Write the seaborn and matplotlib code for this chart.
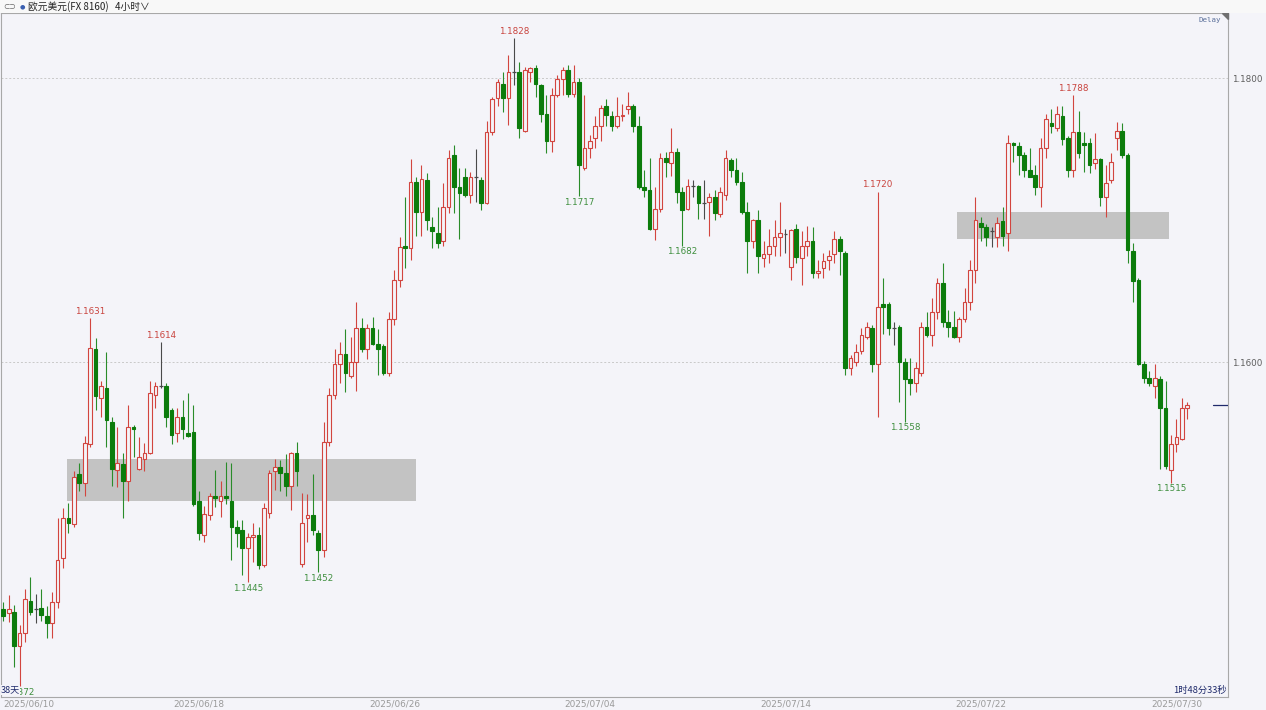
import matplotlib
matplotlib.use("Agg")
import matplotlib.pyplot as plt
from matplotlib.patches import Polygon
import numpy as np
import seaborn as sns

# EUR/USD 4h candles, 2025/06/10 - 2025/07/30
opens = [
    1.1426, 1.1423, 1.1424, 1.1400, 1.1409, 1.1432, 1.1426, 1.1427, 1.1421, 1.1416,
    1.1431, 1.1462, 1.1490, 1.1486, 1.1521, 1.1515, 1.1542, 1.1609, 1.1575, 1.1582,
    1.1558, 1.1524, 1.1528, 1.1516, 1.1554, 1.1525, 1.1532, 1.1536, 1.1577, 1.1583,
    1.1583, 1.1566, 1.1550, 1.1561, 1.1550, 1.1551, 1.1502, 1.1478, 1.1492, 1.1506,
    1.1502, 1.1506, 1.1502, 1.1484, 1.1482, 1.1469, 1.1477, 1.1478, 1.1457, 1.1494,
    1.1523, 1.1526, 1.1522, 1.1513, 1.1536, 1.1458, 1.1490, 1.1492, 1.1480, 1.1468,
    1.1544, 1.1577, 1.1599, 1.1606, 1.1590, 1.1600, 1.1624, 1.1609, 1.1624, 1.1613,
    1.1611, 1.1592, 1.1630, 1.1658, 1.1682, 1.1680, 1.1727, 1.1706, 1.1728, 1.1695,
    1.1691, 1.1685, 1.1709, 1.1746, 1.1723, 1.1730, 1.1718, 1.1730, 1.1728, 1.1712,
    1.1762, 1.1786, 1.1796, 1.1786, 1.1804, 1.1804, 1.1763, 1.1804, 1.1807, 1.1795,
    1.1775, 1.1756, 1.1788, 1.1799, 1.1806, 1.1789, 1.1797, 1.1737, 1.1751, 1.1758,
    1.1766, 1.1780, 1.1773, 1.1766, 1.1773, 1.1778, 1.1780, 1.1766, 1.1723, 1.1721,
    1.1694, 1.1708, 1.1744, 1.1740, 1.1748, 1.1720, 1.1708, 1.1724, 1.1724, 1.1712,
    1.1713, 1.1716, 1.1704, 1.1718, 1.1742, 1.1735, 1.1727, 1.1706, 1.1685, 1.1700,
    1.1673, 1.1676, 1.1682, 1.1688, 1.1690, 1.1667, 1.1694, 1.1673, 1.1682, 1.1685,
    1.1663, 1.1666, 1.1672, 1.1676, 1.1687, 1.1677, 1.1596, 1.1600, 1.1608, 1.1618,
    1.1624, 1.1599, 1.1641, 1.1641, 1.1624, 1.1625, 1.1600, 1.1588, 1.1585, 1.1592,
    1.1625, 1.1619, 1.1635, 1.1656, 1.1628, 1.1625, 1.1618, 1.1630, 1.1642, 1.1665,
    1.1698, 1.1695, 1.1692, 1.1688, 1.1699, 1.1691, 1.1754, 1.1752, 1.1746, 1.1735,
    1.1732, 1.1723, 1.1751, 1.1768, 1.1765, 1.1773, 1.1758, 1.1735, 1.1762, 1.1754,
    1.1754, 1.1740, 1.1743, 1.1716, 1.1728, 1.1758, 1.1763, 1.1746, 1.1678, 1.1658,
    1.1599, 1.1589, 1.1583, 1.1588, 1.1568, 1.1524, 1.1542, 1.1546, 1.1568,
]
highs = [
    1.1431, 1.1436, 1.1429, 1.1415, 1.1440, 1.1449, 1.1437, 1.1440, 1.1428, 1.1438,
    1.1490, 1.1497, 1.1501, 1.1523, 1.1529, 1.1548, 1.1631, 1.1617, 1.1587, 1.1607,
    1.1561, 1.1554, 1.1536, 1.1570, 1.1556, 1.1547, 1.1543, 1.1587, 1.1586, 1.1614,
    1.1585, 1.1568, 1.1568, 1.1573, 1.1578, 1.1570, 1.1509, 1.1499, 1.1508, 1.1524,
    1.1516, 1.1530, 1.1529, 1.1489, 1.1489, 1.1480, 1.1487, 1.1484, 1.1501, 1.1524,
    1.1532, 1.1531, 1.1535, 1.1537, 1.1544, 1.1508, 1.1507, 1.1521, 1.1482, 1.1558,
    1.1582, 1.1609, 1.1614, 1.1623, 1.1618, 1.1642, 1.1631, 1.1627, 1.1632, 1.1623,
    1.1613, 1.1635, 1.1665, 1.1688, 1.1716, 1.1743, 1.1730, 1.1739, 1.1733, 1.1702,
    1.1709, 1.1726, 1.1749, 1.1753, 1.1737, 1.1737, 1.1734, 1.1750, 1.1730, 1.1770,
    1.1787, 1.1799, 1.1804, 1.1816, 1.1828, 1.1811, 1.1808, 1.1808, 1.1809, 1.1796,
    1.1788, 1.1793, 1.1802, 1.1808, 1.1809, 1.1809, 1.1800, 1.1788, 1.1760, 1.1773,
    1.1781, 1.1785, 1.1777, 1.1787, 1.1782, 1.1790, 1.1782, 1.1773, 1.1735, 1.1744,
    1.1723, 1.1747, 1.1748, 1.1765, 1.1751, 1.1723, 1.1729, 1.1728, 1.1725, 1.1728,
    1.1719, 1.1721, 1.1723, 1.1749, 1.1744, 1.1744, 1.1734, 1.1713, 1.1701, 1.1707,
    1.1685, 1.1694, 1.1700, 1.1713, 1.1694, 1.1694, 1.1697, 1.1692, 1.1696, 1.1695,
    1.1672, 1.1677, 1.1679, 1.1692, 1.1689, 1.1678, 1.1605, 1.1613, 1.1624, 1.1628,
    1.1626, 1.1720, 1.1659, 1.1642, 1.1628, 1.1626, 1.1603, 1.1603, 1.1600, 1.1628,
    1.1635, 1.1645, 1.1659, 1.1670, 1.1637, 1.1636, 1.1632, 1.1652, 1.1672, 1.1716,
    1.1702, 1.1697, 1.1695, 1.1702, 1.1709, 1.1760, 1.1755, 1.1755, 1.1748, 1.1751,
    1.1739, 1.1758, 1.1775, 1.1778, 1.1780, 1.1780, 1.1759, 1.1788, 1.1777, 1.1762,
    1.1758, 1.1761, 1.1744, 1.1739, 1.1747, 1.1769, 1.1768, 1.1747, 1.1684, 1.1659,
    1.1601, 1.1594, 1.1599, 1.1590, 1.1587, 1.1549, 1.1560, 1.1575, 1.1572,
]
lows = [
    1.1418, 1.1417, 1.1385, 1.1372, 1.1403, 1.1422, 1.1416, 1.1418, 1.1406, 1.1406,
    1.1427, 1.1455, 1.1480, 1.1484, 1.1509, 1.1506, 1.1540, 1.1566, 1.1561, 1.1540,
    1.1513, 1.1512, 1.1490, 1.1502, 1.1533, 1.1524, 1.1523, 1.1535, 1.1568, 1.1582,
    1.1554, 1.1542, 1.1544, 1.1546, 1.1547, 1.1499, 1.1475, 1.1473, 1.1489, 1.1498,
    1.1491, 1.1500, 1.1461, 1.1470, 1.1450, 1.1445, 1.1459, 1.1454, 1.1456, 1.1490,
    1.1510, 1.1509, 1.1506, 1.1496, 1.1513, 1.1456, 1.1473, 1.1478, 1.1452, 1.1463,
    1.1541, 1.1574, 1.1585, 1.1579, 1.1589, 1.1580, 1.1607, 1.1602, 1.1612, 1.1591,
    1.1591, 1.1590, 1.1626, 1.1653, 1.1666, 1.1672, 1.1689, 1.1689, 1.1693, 1.1680,
    1.1680, 1.1682, 1.1705, 1.1705, 1.1687, 1.1716, 1.1712, 1.1713, 1.1707, 1.1711,
    1.1760, 1.1780, 1.1776, 1.1767, 1.1795, 1.1758, 1.1762, 1.1797, 1.1787, 1.1769,
    1.1747, 1.1748, 1.1787, 1.1788, 1.1787, 1.1787, 1.1717, 1.1735, 1.1744, 1.1751,
    1.1756, 1.1766, 1.1763, 1.1765, 1.1770, 1.1775, 1.1762, 1.1722, 1.1716, 1.1693,
    1.1686, 1.1706, 1.1730, 1.1731, 1.1712, 1.1682, 1.1707, 1.1716, 1.1701, 1.1701,
    1.1689, 1.1700, 1.1702, 1.1714, 1.1730, 1.1725, 1.1704, 1.1663, 1.1680, 1.1663,
    1.1667, 1.1670, 1.1675, 1.1675, 1.1677, 1.1658, 1.1670, 1.1654, 1.1675, 1.1659,
    1.1659, 1.1659, 1.1665, 1.1670, 1.1661, 1.1591, 1.1591, 1.1597, 1.1606, 1.1616,
    1.1593, 1.1561, 1.1620, 1.1619, 1.1612, 1.1572, 1.1558, 1.1577, 1.1579, 1.1590,
    1.1618, 1.1611, 1.1630, 1.1625, 1.1618, 1.1617, 1.1614, 1.1628, 1.1637, 1.1656,
    1.1685, 1.1682, 1.1681, 1.1681, 1.1682, 1.1678, 1.1741, 1.1732, 1.1730, 1.1730,
    1.1718, 1.1709, 1.1744, 1.1761, 1.1763, 1.1753, 1.1730, 1.1730, 1.1744, 1.1734,
    1.1733, 1.1736, 1.1710, 1.1702, 1.1726, 1.1749, 1.1744, 1.1670, 1.1642, 1.1598,
    1.1585, 1.1583, 1.1575, 1.1525, 1.1525, 1.1515, 1.1537, 1.1545, 1.1560,
]
closes = [
    1.1421, 1.1426, 1.1400, 1.1409, 1.1433, 1.1424, 1.1426, 1.1422, 1.1416, 1.1431,
    1.1461, 1.1490, 1.1487, 1.1519, 1.1515, 1.1543, 1.1610, 1.1576, 1.1583, 1.1559,
    1.1525, 1.1529, 1.1516, 1.1554, 1.1553, 1.1533, 1.1536, 1.1578, 1.1583, 1.1583,
    1.1561, 1.1549, 1.1561, 1.1553, 1.1548, 1.1500, 1.1480, 1.1493, 1.1506, 1.1504,
    1.1506, 1.1504, 1.1484, 1.1480, 1.1469, 1.1477, 1.1478, 1.1457, 1.1497, 1.1522,
    1.1526, 1.1522, 1.1513, 1.1536, 1.1523, 1.1487, 1.1492, 1.1482, 1.1468, 1.1544,
    1.1577, 1.1599, 1.1606, 1.1592, 1.1600, 1.1624, 1.1609, 1.1624, 1.1613, 1.1609,
    1.1592, 1.1630, 1.1658, 1.1681, 1.1680, 1.1727, 1.1706, 1.1729, 1.1700, 1.1692,
    1.1684, 1.1709, 1.1744, 1.1723, 1.1719, 1.1718, 1.1730, 1.1730, 1.1712, 1.1762,
    1.1785, 1.1797, 1.1786, 1.1804, 1.1804, 1.1765, 1.1806, 1.1807, 1.1796, 1.1775,
    1.1756, 1.1788, 1.1799, 1.1806, 1.1789, 1.1797, 1.1739, 1.1751, 1.1756, 1.1766,
    1.1779, 1.1774, 1.1766, 1.1773, 1.1774, 1.1780, 1.1766, 1.1723, 1.1721, 1.1694,
    1.1708, 1.1744, 1.1741, 1.1748, 1.1720, 1.1707, 1.1724, 1.1724, 1.1712, 1.1712,
    1.1716, 1.1705, 1.1720, 1.1744, 1.1735, 1.1727, 1.1706, 1.1685, 1.1700, 1.1675,
    1.1676, 1.1682, 1.1688, 1.1691, 1.1690, 1.1693, 1.1674, 1.1682, 1.1685, 1.1663,
    1.1664, 1.1671, 1.1675, 1.1687, 1.1678, 1.1596, 1.1603, 1.1607, 1.1619, 1.1625,
    1.1599, 1.1639, 1.1639, 1.1624, 1.1624, 1.1600, 1.1588, 1.1585, 1.1596, 1.1625,
    1.1619, 1.1635, 1.1656, 1.1628, 1.1625, 1.1618, 1.1630, 1.1642, 1.1665, 1.1700,
    1.1695, 1.1688, 1.1692, 1.1698, 1.1689, 1.1754, 1.1753, 1.1746, 1.1735, 1.1730,
    1.1723, 1.1751, 1.1771, 1.1766, 1.1775, 1.1757, 1.1735, 1.1762, 1.1747, 1.1753,
    1.1739, 1.1743, 1.1716, 1.1726, 1.1741, 1.1763, 1.1746, 1.1679, 1.1657, 1.1599,
    1.1589, 1.1585, 1.1589, 1.1568, 1.1527, 1.1542, 1.1547, 1.1568, 1.1570,
]

# date labels on the time axis (candle index where each day starts)
date_ticks = [0, 36, 72, 108, 144, 180, 216]
date_labels = ["2025/06/10", "2025/06/18", "2025/06/26", "2025/07/04",
               "2025/07/14", "2025/07/22", "2025/07/30"]
price_ticks = [1.16, 1.18]

# swing high / low candles that carry a price label
high_marks = [16, 29, 94, 161, 197]
low_marks = [3, 45, 58, 106, 125, 166, 215]

# grey support / resistance zones (candle index span, price span)
zone_start = [11.7, 175.6]
zone_end = [76.0, 214.7]
zone_low = [1.1502, 1.1687]
zone_high = [1.1532, 1.1706]

BG = "#f4f4f9"
RED = "#d2453f"
GREEN = "#0c7c0c"
GREEN_WICK = "#2a8c2a"
DOJI = "#4a4a4a"
LOW_TXT = "#3f8f3f"
HIGH_TXT = "#c9443e"
NAVY = "#1f2a6b"
W, H = 1266, 710

sns.set_theme(style="white", rc={"axes.facecolor": BG, "figure.facecolor": BG})
plt.rcParams["font.family"] = ["DejaVu Sans", "Noto Sans CJK SC"]

o = np.array(opens)
h = np.array(highs)
l = np.array(lows)
c = np.array(closes)
idx = np.arange(len(c))
up = c > o
down = c < o
flat = c == o

fig = plt.figure(figsize=(W / 100, H / 100), dpi=100)
ax = fig.add_axes([1 / W, 13 / H, 1227 / W, 684 / H])

for s, e, lo, hi in zip(zone_start, zone_end, zone_low, zone_high):
    ax.fill_between([s, e], lo, hi, color="#c3c3c3", lw=0, zorder=1)

ax.vlines(idx[up], l[up], h[up], color=RED, lw=0.8, zorder=2)
ax.vlines(idx[down], l[down], h[down], color=GREEN_WICK, lw=0.8, zorder=2)
ax.vlines(idx[flat], l[flat], h[flat], color=DOJI, lw=0.8, zorder=2)
ax.bar(idx[up], (c - o)[up], bottom=o[up], width=0.68,
       facecolor=BG, edgecolor=RED, lw=0.8, zorder=3)
ax.bar(idx[down], (o - c)[down], bottom=c[down], width=0.68,
       facecolor=GREEN, edgecolor=GREEN, lw=0.8, zorder=3)
ax.hlines(c[flat], idx[flat] - 0.34, idx[flat] + 0.34, color=DOJI, lw=0.9, zorder=3)

for i in high_marks:
    ax.annotate(f"{h[i]:.4f}", (i, h[i]), xytext=(0, 1.8), textcoords="offset points",
                ha="center", va="bottom", color=HIGH_TXT, fontsize=6.3, zorder=5)
for i in low_marks:
    ax.annotate(f"{l[i]:.4f}", (i, l[i]), xytext=(0, -1.2), textcoords="offset points",
                ha="center", va="top", color=LOW_TXT, fontsize=6.3, zorder=5)

# last price marker at the right edge
ax.axhline(c[-1], xmin=0.988, xmax=1.0, color=NAVY, lw=0.9, zorder=4)

ax.set_xlim(-0.42, 225.5)
ax.set_ylim(1.13642, 1.18458)

ax.yaxis.tick_right()
ax.set_yticks(price_ticks)
ax.set_yticklabels([f"{v:.4f}" for v in price_ticks], color="#5e5e5e", fontsize=6.3)
ax.set_xticks(date_ticks)
ax.set_xticklabels(date_labels, color="#9a9a9a", fontsize=6.4)
ax.get_xticklabels()[0].set_ha("left")
ax.tick_params(axis="both", length=0)
ax.tick_params(axis="y", pad=3)
ax.tick_params(axis="x", pad=1.5)
ax.grid(axis="y", color="#c9c9c9", linestyle=(0, (2, 2)), lw=0.7)
ax.grid(axis="x", visible=False)
for sp in ax.spines.values():
    sp.set_color("#a8a8a8")
    sp.set_linewidth(0.8)

# little corner flag next to "Delay"
ax.add_patch(Polygon([[0.9951, 1.0], [1.0, 1.0], [1.0, 0.9912]], closed=True,
                     transform=ax.transAxes, color="#707070", zorder=6, clip_on=False))

# header strip
fig.patches.append(plt.Rectangle((0, 1 - 12.5 / H), 1, 12.5 / H, transform=fig.transFigure,
                                 facecolor="#f8f8f8", edgecolor="none", zorder=0))
fig.text(3 / W, 1 - 6.5 / H, "⊂⊃", fontsize=5.5, color="#666666", va="center")
fig.text(20 / W, 1 - 6.5 / H, "●", fontsize=4.5, color="#3a5fb0", va="center")
fig.text(28 / W, 1 - 6.5 / H, "欧元美元(FX 8160)   4小时∨",
         family=["Noto Sans CJK SC", "DejaVu Sans"], fontsize=7, color="#222222", va="center")

fig.text(1221 / W, 1 - 20 / H, "Delay", family="DejaVu Sans Mono", fontsize=5.4,
         color="#5a6f9a", ha="right", va="center")
fig.text(1227 / W, 1 - 690 / H, "1时48分33秒", family=["Noto Sans CJK SC", "DejaVu Sans"],
         fontsize=6.7, color=NAVY, ha="right", va="center")
fig.text(1 / W, 1 - 690 / H, "38天", family=["Noto Sans CJK SC", "DejaVu Sans"],
         fontsize=6.5, color=NAVY, ha="left", va="center",
         bbox=dict(facecolor=BG, edgecolor="none", pad=0.15))

fig.savefig("out.png", dpi=100)
